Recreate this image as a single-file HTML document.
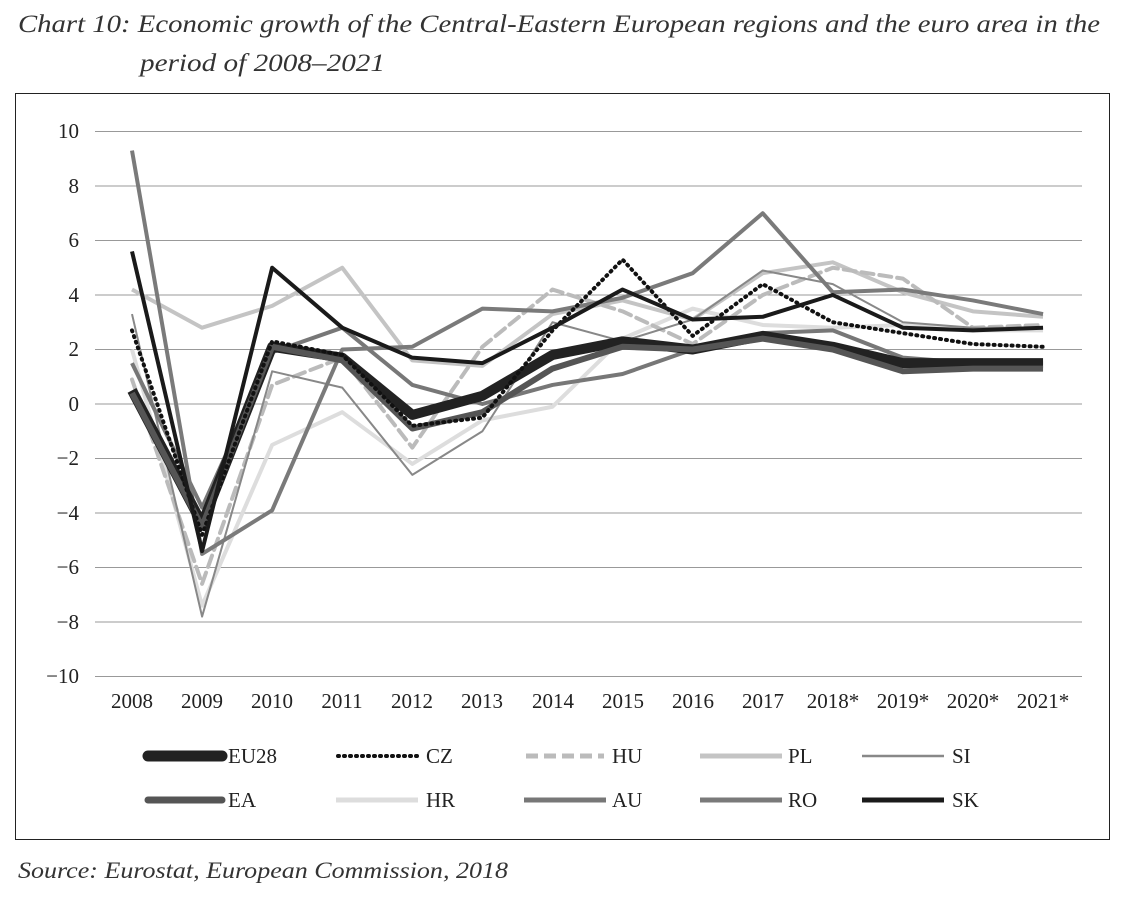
<!DOCTYPE html>
<html><head><meta charset="utf-8"><style>
body{margin:0;background:#fff;width:1124px;height:904px;overflow:hidden}
svg text{font-family:"Liberation Serif",serif}
</style></head><body>
<svg width="1124" height="904" xmlns="http://www.w3.org/2000/svg">
<text x="18" y="32" font-size="25" font-style="italic" fill="#333" textLength="1082" lengthAdjust="spacingAndGlyphs">Chart 10: Economic growth of the Central-Eastern European regions and the euro area in the</text>
<text x="140" y="71" font-size="25" font-style="italic" fill="#333" textLength="245" lengthAdjust="spacingAndGlyphs">period of 2008–2021</text>
<rect x="15.5" y="93.5" width="1094" height="746" fill="none" stroke="#222" stroke-width="1"/>
<g stroke="#999" stroke-width="1">
<line x1="95" x2="1082" y1="131.5" y2="131.5"/><line x1="95" x2="1082" y1="186" y2="186"/>
<line x1="95" x2="1082" y1="240.5" y2="240.5"/><line x1="95" x2="1082" y1="295" y2="295"/>
<line x1="95" x2="1082" y1="349.5" y2="349.5"/><line x1="95" x2="1082" y1="404" y2="404"/>
<line x1="95" x2="1082" y1="458.5" y2="458.5"/><line x1="95" x2="1082" y1="513" y2="513"/>
<line x1="95" x2="1082" y1="567.5" y2="567.5"/><line x1="95" x2="1082" y1="622" y2="622"/>
<line x1="95" x2="1082" y1="676.5" y2="676.5"/>
</g>
<g font-size="21" fill="#222" text-anchor="end">
<text x="79" y="138">10</text><text x="79" y="193">8</text><text x="79" y="247">6</text><text x="79" y="302">4</text><text x="79" y="356">2</text><text x="79" y="411">0</text><text x="79" y="465">−2</text><text x="79" y="520">−4</text><text x="79" y="574">−6</text><text x="79" y="629">−8</text><text x="79" y="683">−10</text>
</g>
<g font-size="21" fill="#222" text-anchor="middle">
<text x="132" y="708">2008</text><text x="202" y="708">2009</text><text x="272" y="708">2010</text><text x="342" y="708">2011</text><text x="412" y="708">2012</text><text x="482" y="708">2013</text><text x="553" y="708">2014</text><text x="623" y="708">2015</text><text x="693" y="708">2016</text><text x="763" y="708">2017</text><text x="833" y="708">2018*</text><text x="903" y="708">2019*</text><text x="973" y="708">2020*</text><text x="1043" y="708">2021*</text>
</g>
<g fill="none" stroke-linejoin="round" id="series"></g>
<g font-size="21" fill="#222">
<line x1="148" x2="222" y1="756" y2="756" stroke="#222" stroke-width="11" stroke-linecap="round"/><text x="228" y="763">EU28</text>
<line x1="338" x2="418" y1="756" y2="756" stroke="#111" stroke-width="4" stroke-dasharray="1 5" stroke-linecap="round"/><text x="426" y="763">CZ</text>
<line x1="526" x2="604" y1="756" y2="756" stroke="#bbb" stroke-width="5" stroke-dasharray="12 6"/><text x="612" y="763">HU</text>
<line x1="700" x2="782" y1="756" y2="756" stroke="#c4c4c4" stroke-width="5"/><text x="788" y="763">PL</text>
<line x1="862" x2="944" y1="756" y2="756" stroke="#888" stroke-width="2.5"/><text x="952" y="763">SI</text>
<line x1="148" x2="222" y1="800" y2="800" stroke="#555" stroke-width="7" stroke-linecap="round"/><text x="228" y="807">EA</text>
<line x1="336" x2="418" y1="800" y2="800" stroke="#ddd" stroke-width="5"/><text x="426" y="807">HR</text>
<line x1="524" x2="606" y1="800" y2="800" stroke="#777" stroke-width="5"/><text x="612" y="807">AU</text>
<line x1="700" x2="782" y1="800" y2="800" stroke="#7a7a7a" stroke-width="5"/><text x="788" y="807">RO</text>
<line x1="862" x2="944" y1="800" y2="800" stroke="#1a1a1a" stroke-width="5"/><text x="952" y="807">SK</text>
</g>
<text x="18" y="878" font-size="23" font-style="italic" fill="#333" textLength="490" lengthAdjust="spacingAndGlyphs">Source: Eurostat, European Commission, 2018</text>
<script>
var S=[
["#ddd",4,"",[2.0,-7.4,-1.5,-0.3,-2.2,-0.6,-0.1,2.4,3.5,2.9,2.8,2.9,2.7,2.7]],
["#c4c4c4",4,"",[4.2,2.8,3.6,5.0,1.6,1.4,3.3,3.8,3.1,4.8,5.2,4.1,3.4,3.2]],
["#bbb",4,"12 6",[0.9,-6.6,0.7,1.7,-1.6,2.1,4.2,3.4,2.2,4.0,5.0,4.6,2.8,2.9]],
["#888",2,"",[3.3,-7.8,1.2,0.6,-2.6,-1.0,3.0,2.3,3.1,4.9,4.4,3.0,2.8,2.8]],
["#777",4,"",[1.5,-3.8,1.9,2.8,0.7,0.0,0.7,1.1,2.0,2.6,2.7,1.7,1.5,1.5]],
["#7a7a7a",4,"",[9.3,-5.5,-3.9,2.0,2.1,3.5,3.4,3.9,4.8,7.0,4.1,4.2,3.8,3.3]],
["#222",10,"",[0.5,-4.4,2.1,1.7,-0.4,0.3,1.8,2.3,2.0,2.5,2.1,1.5,1.5,1.5]],
["#555",6,"",[0.4,-4.5,2.1,1.6,-0.9,-0.3,1.3,2.1,2.0,2.4,2.0,1.2,1.3,1.3]],
["#111",4,"1 5",[2.7,-4.8,2.3,1.8,-0.8,-0.5,2.7,5.3,2.5,4.4,3.0,2.6,2.2,2.1]],
["#1a1a1a",4,"",[5.6,-5.4,5.0,2.8,1.7,1.5,2.8,4.2,3.1,3.2,4.0,2.8,2.7,2.8]]];
var g=document.getElementById("series"),ns="http://www.w3.org/2000/svg";
S.forEach(function(s){var p=document.createElementNS(ns,"polyline");
p.setAttribute("points",s[3].map(function(v,i){return (132+i*70.08)+","+(404-v*27.25)}).join(" "));
p.setAttribute("stroke",s[0]);p.setAttribute("stroke-width",s[1]);
if(s[2]){p.setAttribute("stroke-dasharray",s[2]);p.setAttribute("stroke-linecap","round");}
g.appendChild(p);});
</script>
</svg>
</body></html>
